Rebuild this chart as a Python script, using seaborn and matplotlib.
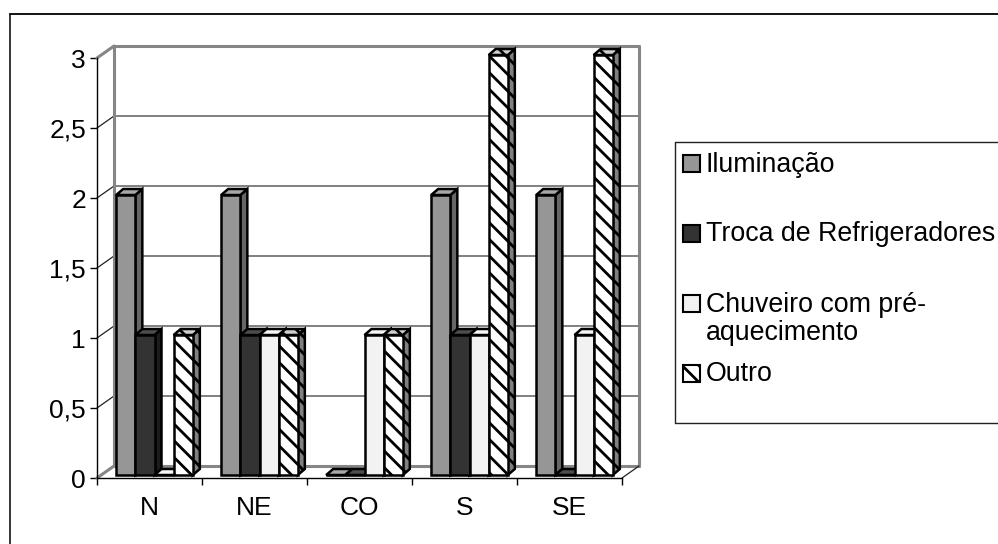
import matplotlib
matplotlib.use("Agg")
import matplotlib.pyplot as plt
import pandas as pd
import seaborn as sns
from matplotlib.patches import Polygon, Rectangle

# -----------------------------
# Data
# -----------------------------
regions = ["N", "NE", "CO", "S", "SE"]
iluminacao = [2, 2, 0, 2, 2]
refrigeradores = [1, 1, 0, 1, 0]
chuveiro = [0, 1, 1, 1, 1]
outro = [1, 1, 1, 3, 3]

series_names = ["Iluminação", "Troca de Refrigeradores", "Chuveiro com pré-\naquecimento", "Outro"]
y_ticks = [0, 0.5, 1, 1.5, 2, 2.5, 3]
y_tick_labels = ["0", "0,5", "1", "1,5", "2", "2,5", "3"]

front_colors = ["#969696", "#333333", "#f2f2f2", "#ffffff"]
side_colors = ["#666666", "#1c1c1c", "#a8a8a8", "#808080"]
top_colors = ["#a8a8a8", "#4d4d4d", "#f8f8f8", "#cfcfcf"]
HATCH = "\\\\"

df = pd.DataFrame({
    "region": regions * 4,
    "serie": [n for n in series_names for _ in regions],
    "valor": iluminacao + refrigeradores + chuveiro + outro,
})

# -----------------------------
# Style
# -----------------------------
sns.set_style("white")
plt.rcParams["font.family"] = ["Liberation Sans", "DejaVu Sans"]
plt.rcParams["hatch.linewidth"] = 2.0

W, H = 998, 544
fig = plt.figure(figsize=(W / 100, H / 100), dpi=100, facecolor="white")

# pixel overlay for the chart frame and the legend
lax = fig.add_axes([0, 0, 1, 1], zorder=5)
lax.set_xlim(0, W)
lax.set_ylim(H, 0)
lax.axis("off")
lax.patch.set_alpha(0)

# axes in the front plane of the 3D box
ax = fig.add_axes([97 / W, (H - 478) / H, 525 / W, 420 / H], zorder=2)
ax.patch.set_alpha(0)

sns.barplot(
    data=df, x="region", y="valor", hue="serie",
    order=regions, hue_order=series_names,
    palette=front_colors, saturation=1, width=0.73, gap=0,
    edgecolor="black", linewidth=1.8, legend=False, ax=ax,
)
ax.set_xlim(-0.5, 4.5)
ax.set_ylim(0, 3)

# one data unit in pixels
px_x = 1 / 105
px_y = 1 / 140

# -----------------------------
# Walls and gridlines
# -----------------------------
wall_x = 17 * px_x
wall_y = 12 * px_y
wall_col = "#868686"
x0, x1 = -0.5, 4.5

for t in y_ticks[1:-1]:
    ax.plot([x0 + wall_x, x1 + wall_x], [t + wall_y, t + wall_y], color="#808080", lw=1.4, clip_on=False, zorder=1)
    ax.plot([x0, x0 + wall_x], [t, t + wall_y], color="#222222", lw=0.9, clip_on=False, zorder=1)

ax.plot([x0 + wall_x, x0 + wall_x], [wall_y, 3 + wall_y], color=wall_col, lw=2.2, clip_on=False, zorder=1)
ax.plot([x1 + wall_x, x1 + wall_x], [wall_y, 3 + wall_y], color=wall_col, lw=2.2, clip_on=False, zorder=1)
ax.plot([x0 + wall_x, x1 + wall_x], [3 + wall_y, 3 + wall_y], color=wall_col, lw=2.2, clip_on=False, zorder=1)
ax.plot([x0 + wall_x, x1 + wall_x], [wall_y, wall_y], color=wall_col, lw=2.2, clip_on=False, zorder=1)
ax.plot([x0, x0 + wall_x], [3, 3 + wall_y], color=wall_col, lw=2.2, clip_on=False, zorder=1)
ax.plot([x0, x0 + wall_x], [0, wall_y], color=wall_col, lw=2.2, clip_on=False, zorder=1)
ax.plot([x1, x1 + wall_x], [0, wall_y], color="#222222", lw=0.9, clip_on=False, zorder=1)

# -----------------------------
# 3D faces on each bar
# -----------------------------
shift_x = 5 * px_x
shift_y = 3 * px_y
depth_x = 7 * px_x
depth_y = 6 * px_y

for s, container in enumerate(ax.containers):
    for bar in container:
        bar.set_x(bar.get_x() + shift_x)
        bar.set_y(shift_y)
        bar.set_clip_on(False)
        bar.set_zorder(3 + s * 2)
        left = bar.get_x()
        right = left + bar.get_width()
        bottom = shift_y
        top = bottom + bar.get_height()
        hatch = HATCH if s == 3 else None
        if s == 3:
            bar.set_hatch(hatch)
        side = Polygon(
            [(right, bottom), (right + depth_x, bottom + depth_y), (right + depth_x, top + depth_y), (right, top)],
            facecolor=side_colors[s], edgecolor="black", lw=1.8, hatch=hatch, clip_on=False, zorder=2 + s * 2,
        )
        cap = Polygon(
            [(left, top), (left + depth_x, top + depth_y), (right + depth_x, top + depth_y), (right, top)],
            facecolor=top_colors[s], edgecolor="black", lw=1.8, hatch=hatch, clip_on=False, zorder=2 + s * 2,
        )
        ax.add_patch(side)
        ax.add_patch(cap)

# -----------------------------
# Axes, ticks, labels
# -----------------------------
sns.despine(ax=ax, top=True, right=True)
ax.spines["left"].set_color("black")
ax.spines["bottom"].set_color("black")
ax.spines["left"].set_linewidth(1.0)
ax.spines["bottom"].set_linewidth(1.0)
ax.set_xlabel("")
ax.set_ylabel("")
ax.set_yticks(y_ticks)
ax.set_yticklabels(y_tick_labels)
ax.set_xticks([x + 0.5 for x in range(-1, 5)], minor=True)
ax.tick_params(axis="x", which="major", length=0, labelsize=19, pad=13, labelcolor="black")
ax.tick_params(axis="x", which="minor", length=5, width=1.0, color="black", bottom=True)
ax.tick_params(axis="y", length=5, width=1.0, color="black", left=True, labelsize=19, pad=3, labelcolor="black")

# -----------------------------
# Outer frame and legend (pixel coordinates)
# -----------------------------
lax.plot([10, 10], [14, H], color="black", lw=1.1)
lax.plot([10, W], [14, 14], color="black", lw=1.3)
lax.plot([675, W], [142, 142], color="#222222", lw=1.0)
lax.plot([675, 675], [142, 423], color="#222222", lw=1.0)
lax.plot([675, W], [423, 423], color="#222222", lw=1.0)

legend_rows = [163, 233, 303, 373]
text_rows = [165, 234, 319, 374]
for s, name in enumerate(series_names):
    lax.add_patch(Rectangle(
        (683, legend_rows[s] - 8), 17, 17, facecolor=front_colors[s], edgecolor="black", lw=1.5,
        hatch=HATCH if s == 3 else None,
    ))
    lax.text(706, text_rows[s], name, fontsize=19.3, va="center", ha="left", color="black", linespacing=1.15)

plt.savefig("out.png", dpi=100)
plt.close()
